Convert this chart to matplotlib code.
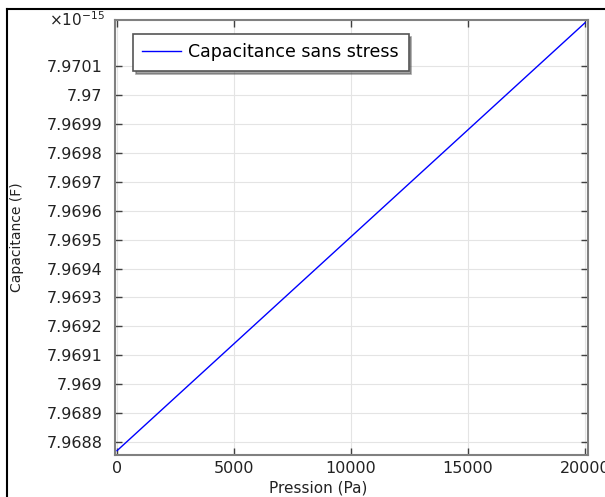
import matplotlib
matplotlib.use("Agg")
import matplotlib.pyplot as plt
from matplotlib.lines import Line2D
from matplotlib.ticker import FuncFormatter

# values (capacitance in units of 1e-15 F)
pression = [0, 5000, 10000, 15000, 20000]
capacitance = [7.96877, 7.96914, 7.96951, 7.96988, 7.97025]
y_ticks = [7.9688, 7.9689, 7.969, 7.9691, 7.9692, 7.9693, 7.9694, 7.9695,
           7.9696, 7.9697, 7.9698, 7.9699, 7.97, 7.9701]
x_ticks = [0, 5000, 10000, 15000, 20000]

fig = plt.figure(figsize=(6.05, 4.97), dpi=100)
ax = fig.add_axes([0.190, 0.0845, 0.782, 0.8755])

ax.plot(pression, capacitance, color="#0000ff", lw=1, label="Capacitance sans stress")

ax.set_xlim(-90, 20130)
ax.set_ylim(7.968755, 7.97026)
ax.set_xticks(x_ticks)
ax.set_yticks(y_ticks)
ax.yaxis.set_major_formatter(FuncFormatter(lambda v, p: ('%.4f' % v).rstrip('0').rstrip('.')))

ax.grid(True, color="#e4e4e4", lw=0.8)
ax.set_axisbelow(True)
for s in ax.spines.values():
    s.set_color("#808080")
    s.set_linewidth(1.5)
ax.tick_params(direction="in", top=True, right=True, length=5, width=1,
               color="#404040", labelsize=11.5, labelcolor="#222222")
ax.tick_params(axis="y", pad=9)
ax.tick_params(axis="x", pad=4)

ax.set_xlabel("Pression (Pa)", fontsize=11, color="#222222")
ax.set_ylabel("Capacitance (F)", fontsize=10, color="#222222")
ax.xaxis.set_label_coords(0.43, -0.058)
ax.yaxis.set_label_coords(-0.192, 0.5)
ax.text(-0.022, 1.0, r"$\times$10$^{-15}$", transform=ax.transAxes,
        ha="right", va="center", fontsize=11, color="#222222")

leg = ax.legend(loc="upper left", bbox_to_anchor=(0.038, 0.968), borderaxespad=0,
                fontsize=12.5, fancybox=False, shadow=True, framealpha=1,
                borderpad=0.55, handlelength=2.2, handletextpad=0.45)
leg.get_frame().set_edgecolor("#555555")
leg.get_frame().set_linewidth(1.2)

# outer frame lines of the original screenshot
fig.add_artist(Line2D([0.0116, 1.0], [0.982, 0.982], color="black", lw=1.5,
                      transform=fig.transFigure))
fig.add_artist(Line2D([0.0116, 0.0116], [0.0, 0.982], color="black", lw=1.5,
                      transform=fig.transFigure))

fig.savefig("out.png", dpi=100)
